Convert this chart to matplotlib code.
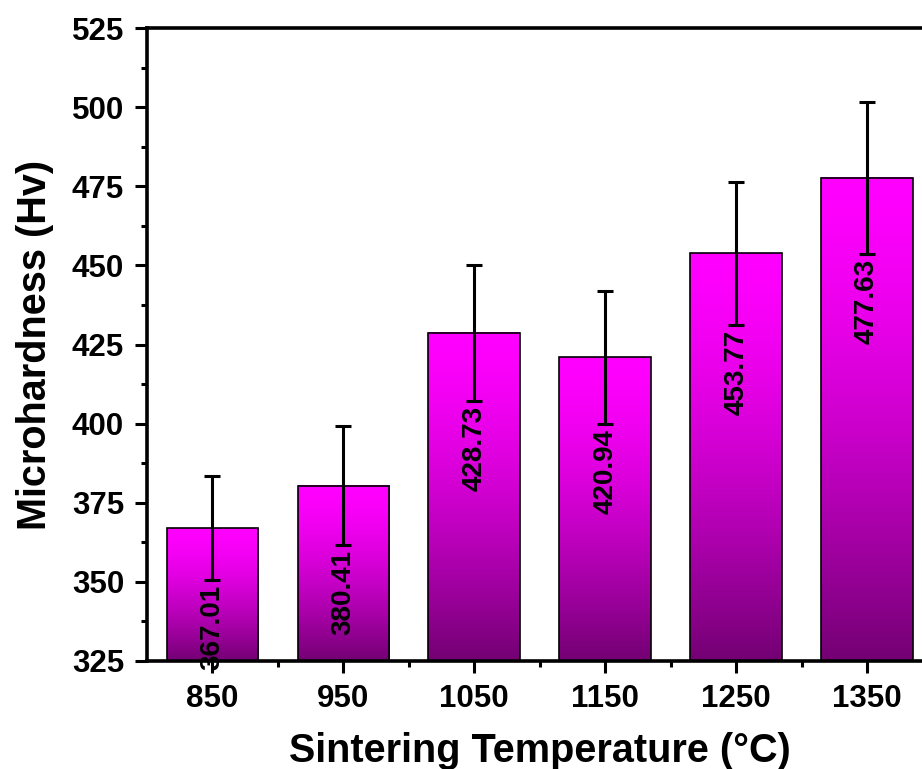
import numpy as np
import matplotlib
matplotlib.use("Agg")
import matplotlib.pyplot as plt
from matplotlib.colors import LinearSegmentedColormap
from matplotlib.ticker import MultipleLocator

# Data
temperatures = [850, 950, 1050, 1150, 1250, 1350]
hardness = [367.01, 380.41, 428.73, 420.94, 453.77, 477.63]
errors = [16.3, 18.9, 21.5, 21.0, 22.7, 23.9]
value_labels = ["367.01", "380.41", "428.73", "420.94", "453.77", "477.63"]

plt.rcParams['font.family'] = ['Liberation Sans', 'DejaVu Sans']
plt.rcParams['font.weight'] = 'bold'

fig = plt.figure(figsize=(9.22, 7.69), dpi=100)
ax = fig.add_axes([147/922, 108/769, (932.5-147)/922, (661-28)/769])

ymin, ymax = 325, 525
bar_w = 70

# gradient colormap: dark purple (bottom) -> magenta (top)
t = np.linspace(0, 1, 256)  # 0 bottom, 1 top
depth = 1 - t
r = 255 - 140 * depth**1.5
grad_colors = np.stack([r/255, np.zeros_like(r), r/255], axis=1)
cmap = LinearSegmentedColormap.from_list('mag', grad_colors)
grad = np.linspace(0, 1, 256).reshape(-1, 1)

for x, v in zip(temperatures, hardness):
    ax.imshow(grad, cmap=cmap, origin='lower', aspect='auto',
              extent=[x - bar_w/2, x + bar_w/2, ymin, v], zorder=1,
              interpolation='bilinear')

ax.bar(temperatures, [v - ymin for v in hardness], bottom=ymin, width=bar_w,
       fill=False, edgecolor='black', linewidth=1.2, zorder=2)

ax.errorbar(temperatures, hardness, yerr=errors, fmt='none', ecolor='black',
            elinewidth=2.2, capsize=5.5, capthick=2.2, zorder=3)

for x, v, e, lab in zip(temperatures, hardness, errors, value_labels):
    ax.annotate(lab, xy=(x, v - e), xytext=(0, -5), textcoords='offset pixels',
                rotation=90, ha='center', va='top', fontsize=20,
                fontweight='bold', color='black', zorder=4)

ax.set_xlim(800, 1400)
ax.set_ylim(ymin, ymax)
ax.set_xticks(temperatures)
ax.set_xticklabels([str(tk) for tk in temperatures])
ax.set_xticks([900, 1000, 1100, 1200, 1300], minor=True)
ax.yaxis.set_major_locator(MultipleLocator(25))
ax.yaxis.set_minor_locator(MultipleLocator(12.5))

for side in ['left', 'bottom', 'top', 'right']:
    ax.spines[side].set_linewidth(2.6)

ax.tick_params(axis='both', which='major', direction='out', length=8.5,
               width=2.2, labelsize=22.5, pad=8)
ax.tick_params(axis='both', which='minor', direction='out', length=4.3,
               width=2.2)
ax.tick_params(top=False, right=False, which='both')
for lbl in ax.get_xticklabels() + ax.get_yticklabels():
    lbl.set_fontweight('bold')

ax.set_xlabel('Sintering Temperature (°C)', fontsize=28.5, fontweight='bold',
              labelpad=13)
ax.set_ylabel('Microhardness (Hv)', fontsize=28.5, fontweight='bold',
              labelpad=13)

fig.savefig('out.png', dpi=100)
